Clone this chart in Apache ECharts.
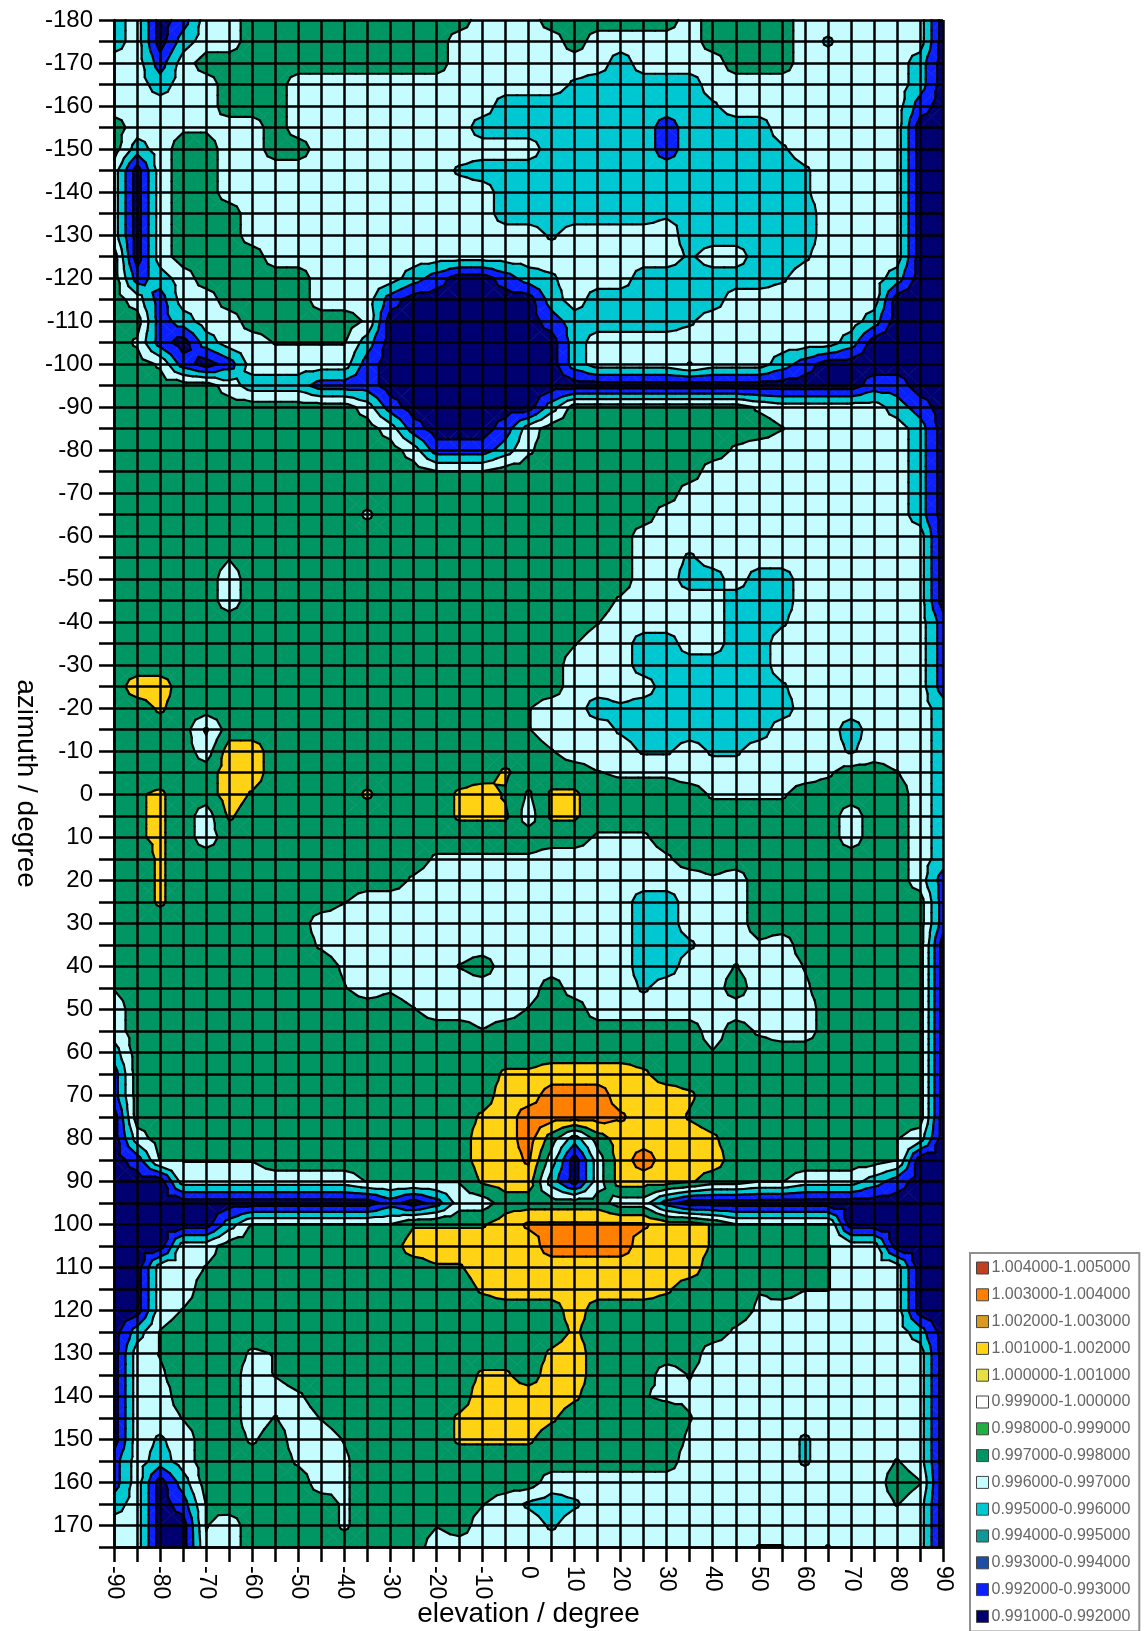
<!DOCTYPE html>
<html>
<head>
<meta charset="utf-8">
<style>html,body{margin:0;padding:0;background:#fff}#chart{width:1144px;height:1631px}</style>
<script src="https://cdn.jsdelivr.net/npm/echarts@6/dist/echarts.min.js"></script>
</head>
<body>
<div id="chart"></div>
<script>
// legend, top to bottom
var bandLabels = ["1.004000-1.005000","1.003000-1.004000","1.002000-1.003000","1.001000-1.002000","1.000000-1.001000","0.999000-1.000000","0.998000-0.999000","0.997000-0.998000","0.996000-0.997000","0.995000-0.996000","0.994000-0.995000","0.993000-0.994000","0.992000-0.993000","0.991000-0.992000"];
var bandColors = ["#c04020","#ff8000","#d89a20","#ffd214","#e8e040","#ffffff","#20b040","#009664","#c4fcff","#00c8d2","#109898","#1c50a8","#0a20ff","#000070"];

var elevationTicks = [-90,-85,-80,-75,-70,-65,-60,-55,-50,-45,-40,-35,-30,-25,-20,-15,-10,-5,0,5,10,15,20,25,30,35,40,45,50,55,60,65,70,75,80,85,90];
var azimuthTicks = [-180,-175,-170,-165,-160,-155,-150,-145,-140,-135,-130,-125,-120,-115,-110,-105,-100,-95,-90,-85,-80,-75,-70,-65,-60,-55,-50,-45,-40,-35,-30,-25,-20,-15,-10,-5,0,5,10,15,20,25,30,35,40,45,50,55,60,65,70,75,80,85,90,95,100,105,110,115,120,125,130,135,140,145,150,155,160,165,170,175];

// bands that really occur in the plot, low to high
var levelBands = ["0.991000-0.992000","0.992000-0.993000","0.995000-0.996000","0.996000-0.997000","0.997000-0.998000","1.001000-1.002000","1.003000-1.004000"];
// letter -> position on that band list. capitals and y sit close to a band edge
var levelOf = {a:0,b:1,c:2,d:3,e:4,f:5,g:6,C:2.35,D:3.35,E:3.55,F:4.65,G:5.65,y:4.4};

// one row per azimuth, one letter per elevation
var surfaceRows = [
"cdabdd eeeeeeeeee ddd eeeeee d eeee dddddd a",
"cdacdd eeeeeeeee ddddd e ddddd eeee d C dddd a",
"ddbd eeeeeeeeeee ddddddd c dddd eee ddddd c a",
"ddcdd eee dddddddddddd C ccccc ddddddddd c a",
"ddddd eee ddddddddd ccc cccccc C dddddddd b a",
"eddDDdded ddddddd c ccccccc b cccc dddddd aa",
"ecdeeddee dddddddddd ccccc b cccc C ddddd aa",
"dadeed ddddddddd C cccccccccccccc C dddd aa",
"dadeed ddddddddddd ccccccccccccc C dddd aa",
"dadeee ddddddddddd ccccccc CC ccccc dddd aa",
"dadeeed ddddddddddd d C ddddd cccccc dddd aa",
"eadeeeed ddddddddddddddddd C dd cc C dddd aa",
"ebcdeeeee dddd c b aa b c C ddd cccccc C dddd c aa",
"edbddeeee ddd b aaaaaa c d cccccc ddddddd aaa",
"eebcddeeeee D aaaaaaa b c cccc C ddddddd c aaa",
"eDbacddEEEEc aaaaaaaa c ddddddddddd c aaaa",
"eeDbab ddddd b aaaaaaaa c dddd E ddd c b aaaaaa",
"eeeeed ccc bbb aaaaaaaa aaaaaaaaaaaaa bb aa",
"eeeeeeeeeee d b aaaaaa c eeeeeeee D ddddd c b a",
"eeeeeeeeeeee d b aaa b d eeeeeeeeee E ddddd c a",
"eeeeeeeeeeeee d bbb c D eeeeeeee D ddddddd c a",
"eeeeeeeeeeeeee EEE eeeeeeeee ddddddddd c a",
"eeeeeeeeeeeeeeeeeeeeeeeee dddddddddd c a",
"eeeeeeeeeee D eeeeeeeeeeee ddddddddddd c a",
"eeeeeeeeeeeeeeeeeeeeeee ddddddddddddd a",
"eeeee E eeeeeeeeeeeeeeeee dd C ddddddddd d a",
"eeeee d eeeeeeeeeeeeeeeee dd cc d cc dddddd a",
"eeeee d eeeeeeeeeeeeeeee D dddd ccc dddddd a",
"eeeeeeeeeeeeeeeeeeeee E ddddd cc C dddddd b",
"eeeeeeeeeeeeeeeeeeee E dd cc dd cc ddddddd b",
"eeeeeeeeeeeeeeeeeeee ddd cccccc ddddddd b",
"eff eeeeeeeeeeeeeeeee dddd ccccc C dddddd b",
"eeF eeeeeeeeeeeeeee E dd c C ccccccc dddddd c",
"eeee C eeeeeeeeeeeee E ddd C cccccc ddd c ddd c",
"eeee d ff eeeeeeeeeee e E ddd CC d CC dddd C ddd c",
"eeeee ff eeeeeeeeee F eee E DDD dddddd D ee E d c",
"eyFee f y eeee F eee F f y D FF eeeee D DDD eeeee d c",
"eyFed F e eeeeeeee FFF d FF eeeeeeeeeee d ee d c",
"eyFed ee eeeeeeeeeeeeee DDD eeeeeeee d ee d c",
"eeF eeeeeeeeeee DDDDD ddddd D eeeeeeeeee d c",
"eeF eeeeeeeeee D ddddddddddd d D d eeeeeee d b",
"eeF eeeeeee E dddddddddddd cc ddd eeeeeeee b",
"eeeeeeeee dddddddddddddd cc ddd eeeeeeee b",
"eeeeeeeee D ddddddddddddd cc C dd D d eeeeee a",
"eeeeeeeeee D dddd E e dddddd cc dd E dd E eeeee a",
"E eeeeeeeee E d D dddddd e ddd C ddd e dd D eeeee a",
"d eeeeeeeeeeee E dddd E ee dddddddddd eeeee a",
"d eeeeeeeeeeeeeee E eeeeeeeee d e D dd eeeee a",
"c eeeeeeeeeeeeeeeeeeeeeeeee E eeeeeeeee a",
"b eeeeeeeeeeeeeeee F F ffff F eeeeeeeeeeee a",
"b eeeeeeeeeeeeeeee ff ggg fff F eeeeeeeeee a",
"a eeeeeeeeeeeeeee F f gggg G ff y eeeeeeeeee a",
"ad eeeeeeeeeeeee e ff g e c e ffff F eeeeeee E d a",
"ab EEEEE eeeeeeeee ff G d a d f g fff eeeeeee E aa",
"aaa dddddddd EEEEE F ff c a d fff F ee EE ddd c b aa",
"aaaaaaaaaaaa b a b dd eeeee dd b aaaaaaaaaaaa",
"aaaaa c EEEEEEE yyyy f GGGGGG ff y EEEEE aaaaa",
"aaadd eeeeeeee ffff f f gggg fff y eeee E dd aaa",
"aaddE eeeeeeeee yy ffffffffff eeeee E ddd aa",
"aadd eeeeeeeeeeee F fffffff F eee E e EE ddd aa",
"aadE eeeeeeeeeeeeeeee f eeeeeee D dddddd aa",
"acE eeeeeeeeeeeeeeeee F eeeeee D ddddddd ca",
"adE eee D E eeeeeeeeeee F f eeeee ddddddddd d a",
"adD eee d E eeeeeeee FF e ff eee d E dddddddddd a",
"add eee dd D eeeeeee ffff F ee E DD dddddddddd a",
"addE ee d E d E eeeee F fff F eeeee E dddddddddd a",
"adCd ee D e dd E eeee F FFF eeeeee D dddd C ddddd a",
"bdcd eeee D d D eeeeeeeeeeeeee ddddd C ddd E d a",
"bdac eeeee d D eeeeeeee ddddddddddddddd e E a",
"cdab E eeeee D eeeee E d C c C ddddddddddddd E d a",
"ddaa E d eeee D eee E e ddd C dddddddddddddddd a",
"ddaa D d eeeeeeee dddddddddddddd EE d E dddd a"
];

// turn the letter rows into node values
var surface = [];
for (var r = 0; r < surfaceRows.length; r++) {
  var letters = surfaceRows[r].replace(/ /g, "");
  if (letters.length !== elevationTicks.length) throw new Error("row " + r + " has " + letters.length);
  var line = [];
  for (var c = 0; c < elevationTicks.length; c++) line.push(levelOf[letters.charAt(c)]);
  surface.push(line);
}

// keep the part of a polygon on one side of limit
function clipPoly(poly, limit, keepAbove) {
  var out = [];
  for (var i = 0; i < poly.length; i++) {
    var p = poly[i], q = poly[(i + 1) % poly.length];
    var pIn = keepAbove ? p[2] >= limit : p[2] <= limit;
    var qIn = keepAbove ? q[2] >= limit : q[2] <= limit;
    if (pIn) out.push(p);
    if (pIn !== qIn) {
      var t = (limit - p[2]) / (q[2] - p[2]);
      out.push([p[0] + (q[0] - p[0]) * t, p[1] + (q[1] - p[1]) * t, limit]);
    }
  }
  return out;
}

var fillPolys = [];
var contourSegs = [];
var topLevel = levelBands.length - 1;

function levelColor(k) { return bandColors[bandLabels.indexOf(levelBands[k])]; }

function addTriangle(tri) {
  var vals = [tri[0][2], tri[1][2], tri[2][2]];
  var low = Math.min.apply(null, vals), high = Math.max.apply(null, vals);
  for (var k = 0; k <= topLevel; k++) {
    var lo = k - 0.5, hi = k + 0.5;
    if (k > 0 && high < lo) continue;
    if (k < topLevel && low > hi) continue;
    var poly = tri;
    if (k > 0) poly = clipPoly(poly, lo, true);
    if (k < topLevel) poly = clipPoly(poly, hi, false);
    if (poly.length > 2) fillPolys.push({ level: k, pts: poly });
    if (k < topLevel && low < hi && high > hi) {
      var pts = [];
      for (var i = 0; i < 3; i++) {
        var p = tri[i], q = tri[(i + 1) % 3];
        if ((p[2] < hi) !== (q[2] < hi)) {
          var t = (hi - p[2]) / (q[2] - p[2]);
          pts.push([p[0] + (q[0] - p[0]) * t, p[1] + (q[1] - p[1]) * t]);
        }
      }
      if (pts.length === 2) contourSegs.push(pts);
    }
  }
}

function levelIndex(v) { return Math.max(0, Math.min(topLevel, Math.round(v))); }

for (var j = 0; j < azimuthTicks.length - 1; j++) {
  for (var i = 0; i < elevationTicks.length - 1; i++) {
    var x0 = elevationTicks[i], x1 = elevationTicks[i + 1];
    var y0 = azimuthTicks[j], y1 = azimuthTicks[j + 1];
    var n0 = [x0, y0, surface[j][i]], n1 = [x1, y0, surface[j][i + 1]];
    var n2 = [x1, y1, surface[j + 1][i + 1]], n3 = [x0, y1, surface[j + 1][i]];
    var lv = levelIndex(n0[2]);
    if (lv === levelIndex(n1[2]) && lv === levelIndex(n2[2]) && lv === levelIndex(n3[2])) {
      fillPolys.push({ level: lv, pts: [n0, n1, n2, n3] });
      continue;
    }
    var mid = [(x0 + x1) / 2, (y0 + y1) / 2, (n0[2] + n1[2] + n2[2] + n3[2]) / 4];
    addTriangle([n0, n1, mid]);
    addTriangle([n1, n2, mid]);
    addTriangle([n2, n3, mid]);
    addTriangle([n3, n0, mid]);
  }
}

// empty series, only there for the legend
var series = bandLabels.map(function (label, b) {
  return {
    name: label,
    type: "custom",
    coordinateSystem: "cartesian2d",
    itemStyle: { color: bandColors[b] },
    renderItem: function () { return null; },
    data: []
  };
});

series.push({
  name: "surface",
  type: "custom",
  coordinateSystem: "cartesian2d",
  silent: true,
  z: 2,
  progressive: 0,
  renderItem: function (params, api) {
    var item = fillPolys[params.dataIndex];
    var col = levelColor(item.level);
    return {
      type: "polygon",
      shape: { points: item.pts.map(function (p) { return api.coord([p[0], p[1]]); }) },
      style: { fill: col, stroke: col, lineWidth: 0.6 }
    };
  },
  data: fillPolys.map(function (f) { return [f.pts[0][0], f.pts[0][1]]; })
});

series.push({
  name: "contours",
  type: "custom",
  coordinateSystem: "cartesian2d",
  silent: true,
  z: 3,
  progressive: 0,
  renderItem: function (params, api) {
    var s = contourSegs[params.dataIndex];
    var a = api.coord(s[0]), b = api.coord(s[1]);
    return {
      type: "line",
      shape: { x1: a[0], y1: a[1], x2: b[0], y2: b[1] },
      style: { stroke: "#000", lineWidth: 2.2, lineCap: "round" }
    };
  },
  data: contourSegs.map(function (s) { return [s[0][0], s[0][1]]; })
});

function tenOnly(v) { return v % 10 === 0 ? String(v) : ""; }

var axisBase = {
  type: "value",
  interval: 5,
  nameLocation: "middle",
  nameMoveOverlap: false,
  nameTextStyle: { color: "#000", fontSize: 28, fontFamily: "Liberation Sans" },
  axisLine: { show: true, onZero: false, lineStyle: { color: "#000", width: 2.5 } },
  axisTick: { show: true, length: 15, lineStyle: { color: "#000", width: 2.5 } },
  splitLine: { show: true, lineStyle: { color: "#000", width: 2.5 } },
  z: 10
};

var myChart = echarts.init(document.getElementById("chart"), null, { renderer: "canvas" });
myChart.setOption({
  animation: false,
  backgroundColor: "#fff",
  grid: { left: 114, top: 20, width: 829, height: 1527, outerBoundsMode: "none" },
  xAxis: Object.assign({}, axisBase, {
    min: -90, max: 90,
    name: "elevation / degree",
    nameGap: 53,
    axisLabel: { formatter: tenOnly, rotate: -90, margin: 19, color: "#000", fontSize: 23, fontFamily: "Liberation Sans", showMinLabel: true, showMaxLabel: true }
  }),
  yAxis: Object.assign({}, axisBase, {
    min: -180, max: 175,
    inverse: true,
    name: "azimuth / degree",
    nameRotate: -90,
    nameGap: 74,
    axisLabel: { formatter: tenOnly, margin: 21, color: "#000", fontSize: 24, fontFamily: "Liberation Sans", showMinLabel: true, showMaxLabel: true }
  }),
  legend: {
    left: 970,
    top: 1253,
    height: 500,
    orient: "vertical",
    align: "left",
    data: bandLabels.map(function (n) { return { name: n, icon: "rect" }; }),
    itemWidth: 12,
    itemHeight: 12,
    itemGap: 8.8,
    padding: [6, 9, 6, 6],
    borderColor: "#909090",
    borderWidth: 2,
    selectedMode: false,
    itemStyle: { borderColor: "#444", borderWidth: 1 },
    textStyle: { color: "#666", fontSize: 16, padding: [0, 0, 0, -2], fontFamily: "Liberation Sans", lineHeight: 18 }
  },
  series: series
});
</script>
</body>
</html>
